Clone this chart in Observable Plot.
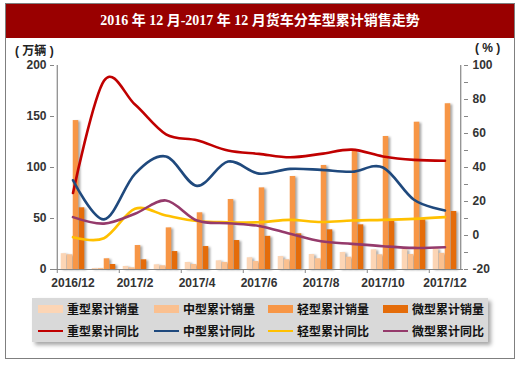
<!DOCTYPE html>
<html><head><meta charset="utf-8">
<script src="https://cdn.jsdelivr.net/npm/d3@7"></script>
<script src="https://cdn.jsdelivr.net/npm/@observablehq/plot@0.6"></script>
<style>
body{margin:0;background:#fff;}
#wrap{position:relative;width:520px;height:365px;overflow:hidden;font-family:"Liberation Sans",Arial,"Noto Sans CJK SC",sans-serif;}
#border{position:absolute;left:5px;top:3px;width:510px;height:356px;border:1px solid #7f7f7f;box-sizing:border-box;}
#titlebar{position:absolute;left:6px;top:4px;width:508px;height:34px;background:#990000;color:#fff;text-align:center;line-height:34px;font-family:"Liberation Serif","Noto Sans CJK SC",serif;font-weight:bold;font-size:14px;white-space:nowrap;}
.unit{position:absolute;top:41px;font-family:"Liberation Sans","Noto Sans CJK SC",sans-serif;font-weight:bold;font-size:12px;color:#222;white-space:pre;}
#chart{position:absolute;left:0;top:0;}
#chart g[aria-label="bar"]{filter:drop-shadow(2px 1px 1px rgba(0,0,0,0.35));}
#legend{position:absolute;left:32px;top:298px;width:456px;height:44px;background:#d9d9d9;box-shadow:3px 3px 4px rgba(0,0,0,0.35);}
.lg{position:absolute;font-family:"Noto Sans CJK SC",sans-serif;font-weight:bold;font-size:12px;color:#111;line-height:14px;white-space:nowrap;}
.sw{position:absolute;}
</style></head>
<body>
<div id="wrap">
  <div id="border"></div>
  <div id="titlebar">2016 年 12 月-2017 年 12 月货车分车型累计销售走势</div>
  <div class="unit" style="left:15px">( 万辆 )</div>
  <div class="unit" style="left:475px">( % )</div>
  <div id="chart"></div>
  <div id="legend"></div>
</div>
<script>
const months = ["2016/12","2017/1","2017/2","2017/3","2017/4","2017/5","2017/6","2017/7","2017/8","2017/9","2017/10","2017/11","2017/12"];
const xTickLabels = ["2016/12","2017/2","2017/4","2017/6","2017/8","2017/10","2017/12"];
const leftTicks = [0,50,100,150,200];
const rightTicks = [-20,0,20,40,60,80,100];
const rightMinorTicks = [-10,10,30,50,70,90];

const heavySales  = [15.5,1,3,4.6,6.9,8.5,11.5,12.7,14.7,16.7,19.3,19.6,20.2];
const mediumSales = [14.4,1,1.6,3.6,4.9,6.9,7.8,9.5,10.5,12,14.4,14.7,15.8];
const lightSales  = [146,10.5,23.5,40.8,55.6,68.6,80,91.2,102,116,130.4,144.4,162.5];
const miniSales   = [60.5,4.9,9.5,17.6,22.5,28.4,32.5,35,38.9,43.8,47.4,48.7,56.9];

const heavyYoY  = [25,91,77,59.5,56,50,48,46,48,50.5,46.5,44.5,44];
const mediumYoY = [32.5,9.5,36.3,46.5,29.2,43.5,36.4,39.2,38.6,37.5,40,21,14.7];
const lightYoY  = [-1,-1.6,15.7,11.8,8.5,7.8,7.8,9.2,7.9,8.8,9.2,9.8,10.8];
const miniYoY   = [10.8,7,12.8,20.6,8.8,7.2,5.6,1,-3.4,-4.9,-6.3,-7.3,-6.9];

const salesSeries = [
  {name:"重型累计销量", values: heavySales,  color:"#fcd5b5"},
  {name:"中型累计销量", values: mediumSales, color:"#fac090"},
  {name:"轻型累计销量", values: lightSales,  color:"#f79646"},
  {name:"微型累计销量", values: miniSales,   color:"#e46c0a"}
];
const yoySeries = [
  {name:"重型累计同比", values: heavyYoY,  color:"#c00000"},
  {name:"中型累计同比", values: mediumYoY, color:"#1f497d"},
  {name:"轻型累计同比", values: lightYoY,  color:"#ffc000"},
  {name:"微型累计同比", values: miniYoY,   color:"#953a6b"}
];

const W = 520, H = 300, mL = 54, mR = 57, mT = 65, mB = 31;
const bw = (W - mL - mR) / months.length;
const barW = 6;
const toLeft = v => (v + 20) * 200 / 120;
const fromLeft = d => Math.round(d * 120 / 200 - 20);

const barMarks = salesSeries.map((s, i) => {
  const il = bw / 2 - 2 * barW + i * barW;
  return Plot.barY(months.map((m, k) => ({month: m, value: s.values[k]})), {
    x: "month", y: "value", fill: s.color,
    insetLeft: il, insetRight: bw - il - barW
  });
});
const lineMarks = yoySeries.map(s =>
  Plot.line(months.map((m, k) => ({month: m, v: toLeft(s.values[k])})), {
    x: "month", y: "v", stroke: s.color, strokeWidth: 2.6, curve: "cardinal"
  })
);
const axisColor = "#868686";

const chart = Plot.plot({
  width: W, height: H, marginLeft: mL, marginRight: mR, marginTop: mT, marginBottom: mB,
  x: {type: "band", domain: months, padding: 0, axis: null, label: null},
  y: {domain: [0, 200], axis: null, label: null},
  style: {fontFamily: "'Liberation Sans', Arial, sans-serif", fontSize: "12px", fontWeight: "bold", color: "#333", background: "transparent", overflow: "visible"},
  marks: [
    ...barMarks,
    Plot.ruleY([0], {stroke: axisColor, strokeWidth: 1.2}),
    Plot.ruleX([months[0]], {y1: 0, y2: 200, dx: -bw / 2, stroke: axisColor, strokeWidth: 1.2}),
    Plot.ruleX([months[months.length - 1]], {y1: 0, y2: 200, dx: bw / 2, stroke: axisColor, strokeWidth: 1.2}),
    Plot.axisY({ticks: leftTicks, tickSize: 4, tickPadding: 4, stroke: axisColor, fill: "#333", label: null}),
    Plot.axisY({anchor: "right", ticks: rightTicks.map(toLeft), tickFormat: fromLeft, tickSize: 4, tickPadding: 5, stroke: axisColor, fill: "#333", label: null}),
    Plot.axisY({anchor: "right", ticks: rightMinorTicks.map(toLeft), tickFormat: () => "", tickSize: 4, stroke: axisColor, label: null}),
    Plot.axisX({ticks: xTickLabels, tickSize: 0, tickPadding: 9, fill: "#333", label: null}),
    Plot.axisX({ticks: xTickLabels, tickSize: 4, tickFormat: () => "", dx: -bw / 2, stroke: axisColor, label: null}),
    ...lineMarks
  ]
});
document.getElementById("chart").appendChild(chart);

// legend
const lg = document.getElementById("legend");
const colsSw = [6, 122, 236, 351];
const rowsY = [11, 33];
salesSeries.forEach((s, i) => {
  const sw = document.createElement("div");
  sw.className = "sw";
  sw.style.cssText = `left:${colsSw[i]}px;top:${rowsY[0]-4}px;width:25px;height:8px;background:${s.color}`;
  lg.appendChild(sw);
  const t = document.createElement("div");
  t.className = "lg"; t.textContent = s.name;
  t.style.cssText = `left:${colsSw[i]+29}px;top:${rowsY[0]-7}px`;
  lg.appendChild(t);
});
yoySeries.forEach((s, i) => {
  const sw = document.createElement("div");
  sw.className = "sw";
  sw.style.cssText = `left:${colsSw[i]}px;top:${rowsY[1]-1}px;width:25px;height:2px;background:${s.color}`;
  lg.appendChild(sw);
  const t = document.createElement("div");
  t.className = "lg"; t.textContent = s.name;
  t.style.cssText = `left:${colsSw[i]+29}px;top:${rowsY[1]-7}px`;
  lg.appendChild(t);
});
</script>
</body></html>
